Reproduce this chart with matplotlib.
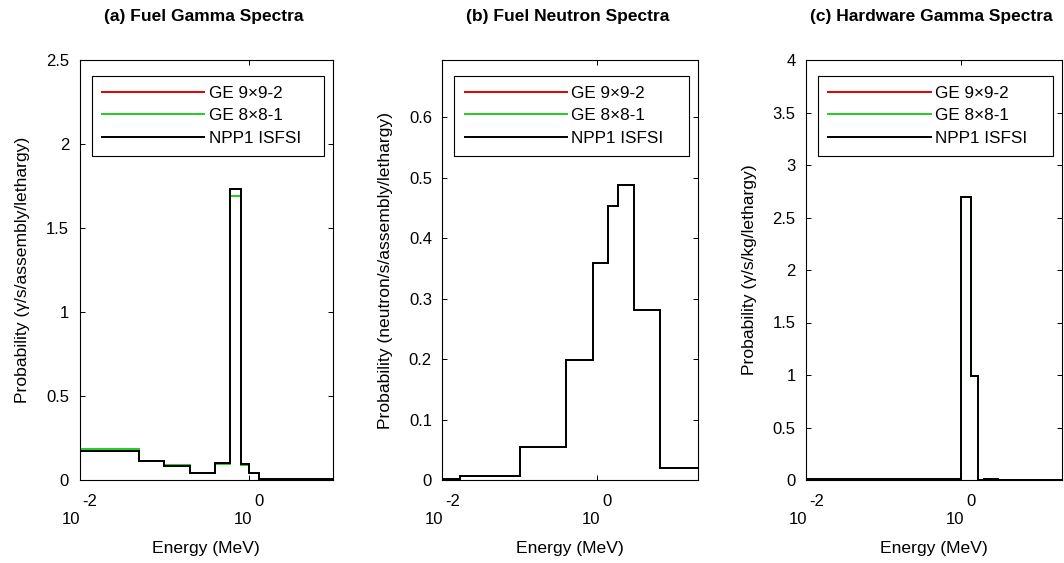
import matplotlib
matplotlib.use('Agg')
import matplotlib.pyplot as plt
from matplotlib.lines import Line2D
from matplotlib.ticker import NullLocator, FixedLocator, FuncFormatter
import numpy as np

plt.rcParams['font.family'] = ['Liberation Sans', 'DejaVu Sans']

# ---------------- data ----------------
series_labels = ['GE 9×9-2', 'GE 8×8-1', 'NPP1 ISFSI']
series_colors = ['#e00000', '#22cc22', '#000000']

titles = ['(a) Fuel Gamma Spectra', '(b) Fuel Neutron Spectra',
          '(c) Hardware Gamma Spectra']
ylabels = ['Probability (γ/s/assembly/lethargy)',
           'Probability (neutron/s/assembly/lethargy)',
           'Probability (γ/s/kg/lethargy)']
xlabel = 'Energy (MeV)'

# (a) fuel gamma: group edges (MeV) and per-lethargy values
fg_edges = [0.01, 0.05, 0.1, 0.2, 0.4, 0.6, 0.8, 1.0, 1.33, 10.0]
fg_ge992 = [0.172, 0.113, 0.082, 0.042, 0.103, 1.735, 0.095, 0.040, 0.004]
fg_ge881 = [0.185, 0.115, 0.090, 0.042, 0.095, 1.690, 0.088, 0.040, 0.004]
fg_npp1 = [0.172, 0.113, 0.082, 0.042, 0.103, 1.735, 0.095, 0.040, 0.004]

# (b) fuel neutron
fn_edges = [0.01, 0.017, 0.1, 0.4, 0.9, 1.4, 1.85, 3.0, 6.43, 20.0]
fn_ge992 = [0.002, 0.007, 0.055, 0.199, 0.359, 0.453, 0.488, 0.282, 0.020]
fn_ge881 = [0.002, 0.007, 0.055, 0.199, 0.359, 0.453, 0.488, 0.282, 0.020]
fn_npp1 = [0.002, 0.007, 0.055, 0.199, 0.359, 0.453, 0.488, 0.282, 0.020]

# (c) hardware gamma
hg_edges = [0.01, 1.0, 1.33, 1.66, 2.0, 3.0, 20.0]
hg_ge992 = [0.005, 2.70, 0.99, 0.0, 0.012, 0.0]
hg_ge881 = [0.005, 2.70, 0.99, 0.0, 0.012, 0.0]
hg_npp1 = [0.005, 2.70, 0.99, 0.0, 0.012, 0.0]

panel_edges = [fg_edges, fn_edges, hg_edges]
panel_series = [[fg_ge992, fg_ge881, fg_npp1],
                [fn_ge992, fn_ge881, fn_npp1],
                [hg_ge992, hg_ge881, hg_npp1]]
panel_xlim = [(0.01, 10.0), (0.01, 20.0), (0.01, 20.0)]
panel_ylim = [(0, 2.5), (0, 0.695), (0, 4.0)]
panel_yticks = [[0, 0.5, 1, 1.5, 2, 2.5],
                [0, 0.1, 0.2, 0.3, 0.4, 0.5, 0.6],
                [0, 0.5, 1, 1.5, 2, 2.5, 3, 3.5, 4]]
xtick_vals = [0.01, 1.0]

# ---------------- layout ----------------
W, H = 1064, 563
fig = plt.figure(figsize=(W / 100, H / 100), dpi=100)
renderer = fig.canvas.get_renderer()

ax_px = [(79.5, 333.3), (442.3, 697.7), (806.0, 1061.7)]
top_px, bot_px = 60.0, 480.0

FS_TICK = 12
FS_LEG = 12.3
FS_LAB = 12.6
FS_TITLE = 12.5

for i in range(3):
    l, r = ax_px[i]
    ax = fig.add_axes([l / W, (H - bot_px) / H, (r - l) / W, (bot_px - top_px) / H])
    wpx = r - l
    hpx = bot_px - top_px
    ax.set_xscale('log')
    edges = panel_edges[i]
    for vals, col in zip(panel_series[i], series_colors):
        ax.stairs(vals, edges, baseline=None, color=col, linewidth=1.4)
    ax.set_xlim(*panel_xlim[i])
    ax.set_ylim(*panel_ylim[i])
    ax.xaxis.set_major_locator(FixedLocator(xtick_vals))
    ax.xaxis.set_minor_locator(NullLocator())
    ax.yaxis.set_major_locator(FixedLocator(panel_yticks[i]))
    ax.yaxis.set_minor_locator(NullLocator())
    ax.yaxis.set_major_formatter(FuncFormatter(lambda v, p: f'{v:g}'))
    ax.tick_params(axis='both', which='major', direction='in', length=3.6,
                   width=0.7, top=True, right=True, labelsize=FS_TICK, pad=7.5)
    ax.tick_params(axis='x', labelbottom=False)
    for s in ax.spines.values():
        s.set_linewidth(0.8)

    # MATLAB-style log tick labels: "10" with exponent raised to the right
    for tv in xtick_vals:
        expo = f'{int(round(np.log10(tv)))}'
        t_e = ax.annotate(expo, xy=(tv, 0), xycoords=('data', 'axes fraction'),
                          xytext=(0, -21), textcoords='offset pixels',
                          ha='left', va='center', fontsize=FS_TICK)
        t_b = ax.annotate('10', xy=(tv, 0), xycoords=('data', 'axes fraction'),
                          xytext=(0, -40), textcoords='offset pixels',
                          ha='left', va='center', fontsize=FS_TICK)
        we = t_e.get_window_extent(renderer).width
        wb = t_b.get_window_extent(renderer).width
        gap = 2
        left = -(wb + gap + we) / 2
        t_b.xyann = (left, -40)
        t_e.xyann = (left + wb + gap, -21)

    # labels / title
    ax.text(0.5, -68 / hpx, xlabel, transform=ax.transAxes, ha='center',
            va='center', fontsize=FS_LAB)
    ax.text(-57 / wpx, 0.5, ylabels[i], transform=ax.transAxes, ha='center',
            va='center', rotation=90, fontsize=FS_LAB)
    ax.text(0.49, 1 + 43 / hpx, titles[i], transform=ax.transAxes,
            ha='center', va='center', fontsize=FS_TITLE, fontweight='bold')

    # legend
    handles = [Line2D([], [], color=c, linewidth=1.4) for c in series_colors]
    x0 = 12 / wpx
    x1 = 1 - 9 / wpx
    y1 = 1 - 16 / hpx
    y0 = 1 - 107 / hpx
    leg = ax.legend(handles, series_labels, loc='upper left',
                    bbox_to_anchor=(x0, y0, x1 - x0, y1 - y0), mode='expand',
                    borderaxespad=0, fontsize=FS_LEG, handlelength=6.0,
                    handletextpad=0.25, borderpad=0.6, labelspacing=0.42,
                    fancybox=False, shadow=False, framealpha=1,
                    edgecolor='black')
    leg.get_frame().set_linewidth(0.8)

fig.savefig('out.png', dpi=100)
